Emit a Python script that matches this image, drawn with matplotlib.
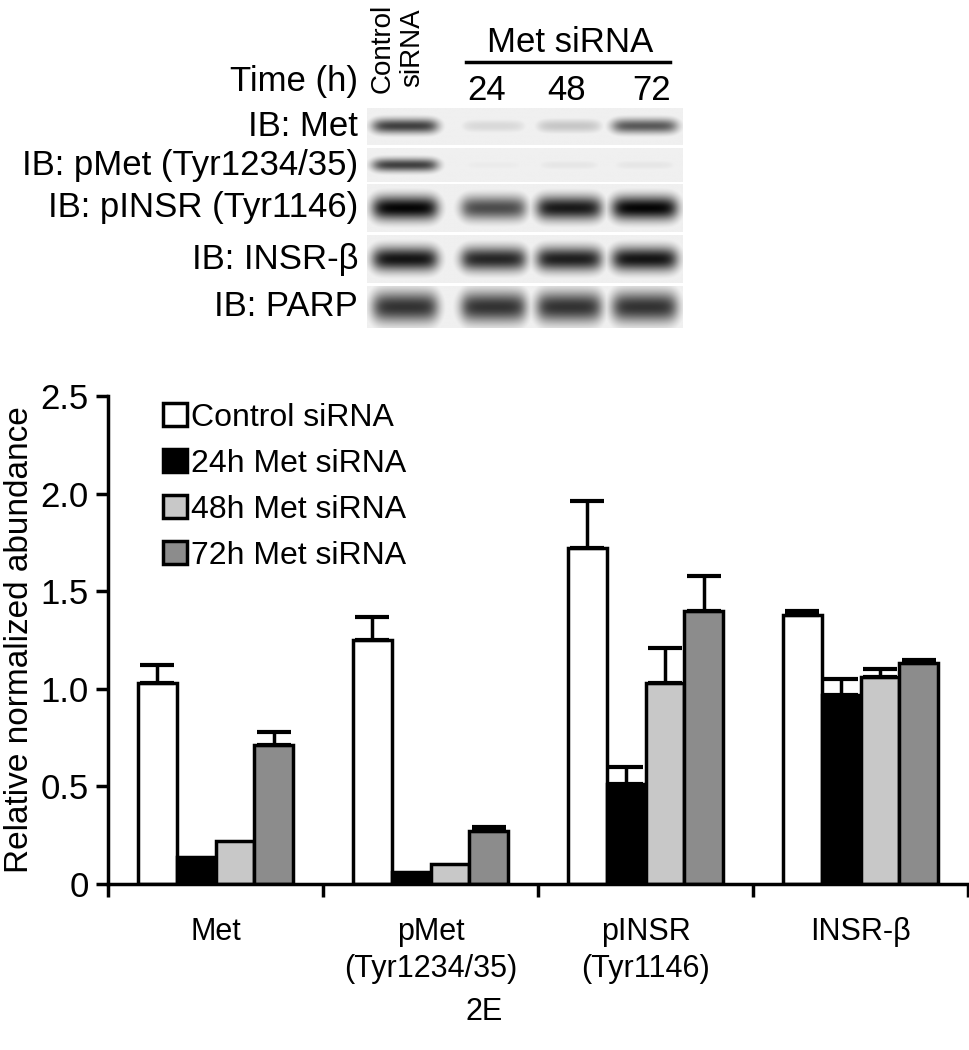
import numpy as np
import matplotlib
matplotlib.use("Agg")
import matplotlib.pyplot as plt
from matplotlib.patches import Patch
from matplotlib import font_manager

plt.rcParams['font.family'] = ['Liberation Sans', 'DejaVu Sans']
names = {f.name for f in font_manager.fontManager.ttflist}
narrow = ['Liberation Sans Narrow', 'Liberation Sans', 'DejaVu Sans'] if 'Liberation Sans Narrow' in names else ['Liberation Sans', 'DejaVu Sans']

categories = ["Met", "pMet\n(Tyr1234/35)", "pINSR\n(Tyr1146)", "INSR-β"]
series = ["Control siRNA", "24h Met siRNA", "48h Met siRNA", "72h Met siRNA"]
colors = ["white", "black", "#c8c8c8", "#8c8c8c"]
control = [1.03, 1.25, 1.72, 1.38]
h24 = [0.14, 0.06, 0.51, 0.97]
h48 = [0.22, 0.10, 1.03, 1.06]
h72 = [0.71, 0.27, 1.40, 1.13]
err_control = [0.09, 0.12, 0.24, 0.02]
err_h24 = [0.0, 0.0, 0.09, 0.08]
err_h48 = [0.0, 0.0, 0.18, 0.04]
err_h72 = [0.07, 0.02, 0.18, 0.02]

blot_rows = ["IB: Met", "IB: pMet (Tyr1234/35)", "IB: pINSR (Tyr1146)", "IB: INSR-β", "IB: PARP"]
blot_lanes = ["Control\nsiRNA", "24", "48", "72"]
band_intensity = [
    [0.75, 0.15, 0.22, 0.65],
    [0.75, 0.08, 0.1, 0.1],
    [0.98, 0.7, 0.9, 0.98],
    [0.92, 0.85, 0.88, 0.92],
    [0.8, 0.8, 0.8, 0.8],
]

fig = plt.figure(figsize=(9.69, 10.5), dpi=100)

# ---------- bar chart ----------
ax = fig.add_axes([108/969, 1-884/1050, 860/969, (884-396)/1050])
vals = [control, h24, h48, h72]
errs = [err_control, err_h24, err_h48, err_h72]
w = 0.18
x = np.arange(len(categories))
for k in range(4):
    pos = x + 0.5 + (k - 1.5) * w
    ax.bar(pos, vals[k], width=w, color=colors[k], edgecolor="black", linewidth=2.5, zorder=2)
    for p, v, e in zip(pos, vals[k], errs[k]):
        if e > 0:
            ax.errorbar([p], [v], yerr=[[0], [e]], fmt="none", ecolor="black",
                        elinewidth=2.5, capsize=12, capthick=3, zorder=3)
ax.set_xlim(0, 4)
ax.set_ylim(0, 2.5)
ax.set_yticks([0, 0.5, 1.0, 1.5, 2.0, 2.5])
ax.set_yticklabels(["0", "0.5", "1.0", "1.5", "2.0", "2.5"], fontsize=25)
ax.set_xticks([0, 1, 2, 3, 4])
ax.set_xticklabels([])
ax.set_xticks(x + 0.5, minor=True)
ax.set_xticklabels(categories, minor=True, fontsize=22, linespacing=1.3)
ax.tick_params(axis="x", which="minor", length=0, pad=24)
ax.tick_params(axis="x", which="major", length=9, width=2.5, direction="out")
ax.tick_params(axis="y", length=9, width=2.5, direction="out", pad=5)
for s in ["top", "right"]:
    ax.spines[s].set_visible(False)
for s in ["left", "bottom"]:
    ax.spines[s].set_linewidth(2.5)
ax.set_ylabel("Relative normalized abundance", fontsize=24, labelpad=4)
handles = [Patch(facecolor=c, edgecolor="black", linewidth=2.5) for c in colors]
ax.legend(handles, series, loc="upper left", bbox_to_anchor=(0.03, 1.045), frameon=False,
          fontsize=23, handlelength=0.75, handleheight=0.75, handletextpad=0.15, labelspacing=0.5)
fig.text(484/969, 1-1012/1050, "2E", fontsize=22, ha="center", va="center")

# ---------- blot ----------
bx0, bx1 = 367, 683
lane_c = [0.12, 0.40, 0.64, 0.88]
fs_b = 25
for r, (y0, y1) in enumerate([(108, 145), (148, 182), (184, 232), (235, 283), (286, 328)]):
    bax = fig.add_axes([bx0/969, 1-y1/1050, (bx1-bx0)/969, (y1-y0)/1050])
    xx = np.linspace(0, 1, 300)
    yy = np.linspace(0, 1, 60)
    X, Y = np.meshgrid(xx, yy)
    img = np.full_like(X, 0.06)
    for c, a in zip(lane_c, band_intensity[r]):
        hw = 0.1
        prof_x = 1 / (1 + np.exp((np.abs(X - c) - hw) / 0.012))
        sig = 0.2 if r < 2 else 0.26 + 0.12 * (r == 4)
        prof_y = np.exp(-((Y - 0.5) / sig) ** 2)
        img = np.maximum(img, a * prof_x * prof_y)
    bax.imshow(1 - img, cmap="gray", vmin=0, vmax=1, aspect="auto", extent=[0, 1, 0, 1])
    bax.set_xticks([]); bax.set_yticks([])
    for s in bax.spines.values():
        s.set_visible(False)
    fig.text(358/969, 1-(y0+y1)/2/1050, blot_rows[r], fontsize=fs_b, ha="right", va="center",
             family=narrow)

fig.text(358/969, 1-82/1050, "Time (h)", fontsize=fs_b, ha="right", va="center", family=narrow)
fig.text(383/969, 1-48/1050, "Control", fontsize=20, rotation=90, ha="center", va="center")
fig.text(412/969, 1-48/1050, "siRNA", fontsize=20, rotation=90, ha="center", va="center")
for lab, xc in zip(blot_lanes[1:], [487, 567, 652]):
    fig.text(xc/969, 1-90/1050, lab, fontsize=25, ha="center", va="center", family=narrow)
fig.text(570/969, 1-43/1050, "Met siRNA", fontsize=25, ha="center", va="center", family=narrow)
fig.add_artist(plt.Line2D([466/969, 670/969], [1-62/1050, 1-62/1050], color="black", lw=2.5))

fig.savefig("out.png", dpi=100, facecolor="white")
